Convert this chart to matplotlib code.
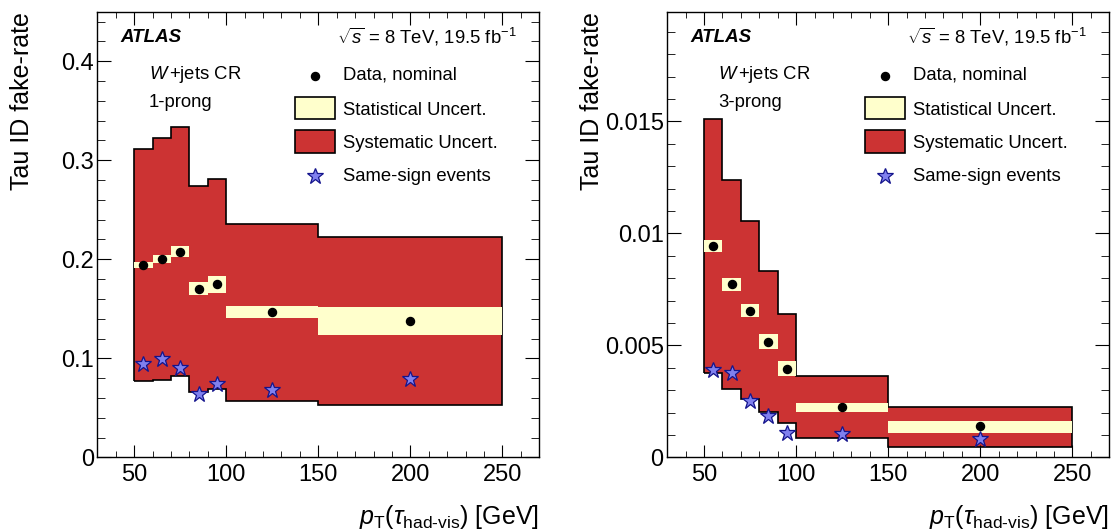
import matplotlib
matplotlib.use("Agg")
import matplotlib.pyplot as plt
from matplotlib.patches import Rectangle
from matplotlib.ticker import MultipleLocator, FuncFormatter

plt.rcParams["font.family"] = ["Liberation Sans", "DejaVu Sans"]
plt.rcParams["mathtext.fontset"] = "custom"
plt.rcParams["mathtext.rm"] = "Liberation Sans"
plt.rcParams["mathtext.it"] = "Liberation Sans:italic"
plt.rcParams["mathtext.bf"] = "Liberation Sans:bold"

# pT bins [GeV]
edges = [50, 60, 70, 80, 90, 100, 150, 250]
centers = [55, 65, 75, 85, 95, 125, 200]

# 1-prong
rate_1p = [0.194, 0.200, 0.207, 0.170, 0.175, 0.147, 0.138]
stat_lo_1p = [0.191, 0.1965, 0.2025, 0.164, 0.166, 0.141, 0.124]
stat_hi_1p = [0.197, 0.204, 0.213, 0.177, 0.183, 0.153, 0.152]
sys_lo_1p = [0.077, 0.078, 0.082, 0.066, 0.069, 0.057, 0.053]
sys_hi_1p = [0.311, 0.322, 0.334, 0.274, 0.281, 0.236, 0.222]
ss_1p = [0.094, 0.099, 0.0905, 0.064, 0.0736, 0.068, 0.079]

# 3-prong
rate_3p = [0.00943, 0.00774, 0.00655, 0.00516, 0.00396, 0.00225, 0.00138]
stat_lo_3p = [0.00918, 0.00744, 0.00626, 0.00486, 0.00362, 0.00204, 0.00111]
stat_hi_3p = [0.00970, 0.00800, 0.00685, 0.00550, 0.00431, 0.00244, 0.00164]
sys_lo_3p = [0.00375, 0.00305, 0.00261, 0.00203, 0.00154, 0.00087, 0.00047]
sys_hi_3p = [0.01512, 0.01240, 0.01055, 0.00832, 0.00639, 0.00363, 0.00225]
ss_3p = [0.00390, 0.00375, 0.00250, 0.00187, 0.00110, 0.00105, 0.00084]

RED = "#cc3333"
YELLOW = "#ffffcc"
STAR_FACE = "#8080ee"
STAR_EDGE = "#14148c"


def draw_panel(ax, rate, stat_lo, stat_hi, sys_lo, sys_hi, ss, prong, ymax, ymaj, ymin):
    ax.stairs(sys_hi, edges, baseline=sys_lo, fill=True, color=RED, lw=0, zorder=1)
    ax.stairs(sys_hi, edges, baseline=sys_lo, fill=False, color="black", lw=1.2, zorder=2)
    ax.stairs(stat_hi, edges, baseline=stat_lo, fill=True, color=YELLOW, lw=0, zorder=3)
    ax.plot(centers, rate, "o", color="black", ms=5.8, zorder=5)
    ax.plot(centers, ss, "*", ms=12, mfc=STAR_FACE, mec=STAR_EDGE, mew=0.9, zorder=6)

    ax.set_xlim(30, 270)
    ax.set_ylim(0, ymax)
    ax.xaxis.set_major_locator(MultipleLocator(50))
    ax.xaxis.set_minor_locator(MultipleLocator(10))
    ax.yaxis.set_major_locator(MultipleLocator(ymaj))
    ax.yaxis.set_minor_locator(MultipleLocator(ymin))
    ax.yaxis.set_major_formatter(FuncFormatter(lambda v, p: "%g" % round(v, 6)))
    ax.tick_params(which="both", direction="in", top=True, right=True, labelsize=17)
    ax.tick_params(axis="x", which="major", length=9, pad=5)
    ax.tick_params(axis="x", which="minor", length=4.5)
    ax.tick_params(axis="y", which="major", length=10, pad=2.5)
    ax.tick_params(axis="y", which="minor", length=5.5)
    for s in ax.spines.values():
        s.set_linewidth(1.0)

    ax.set_ylabel("Tau ID fake-rate", fontsize=18, loc="top")
    ax.yaxis.set_label_coords(-0.171, 1.0)
    ax.yaxis.label.set_va("center")
    ax.set_xlabel(r"$p_{\mathrm{T}}(\tau_{\text{had-vis}})$ [GeV]", fontsize=18, loc="right")
    ax.xaxis.set_label_coords(1.0, -0.133)
    ax.xaxis.label.set_va("center")

    tr = ax.transAxes
    ax.text(0.052, 0.931, "ATLAS", transform=tr, fontsize=13.5, fontweight="bold",
            fontstyle="italic", va="baseline")
    ax.text(0.949, 0.929, r"$\sqrt{s}$ = 8 TeV, 19.5 fb$^{-1}$", transform=tr,
            fontsize=13.3, ha="right", va="baseline")
    ax.text(0.116, 0.848, r"$W\,$+jets CR", transform=tr, fontsize=13.3, va="baseline")
    ax.text(0.116, 0.787, prong, transform=tr, fontsize=13.3, va="baseline")

    # legend, drawn by hand in ROOT style
    xm, bx0, bw, bh, xt = 0.492, 0.448, 0.089, 0.051, 0.556
    ax.plot([xm], [0.856], "o", color="black", ms=5.8, transform=tr, clip_on=False)
    ax.add_patch(Rectangle((bx0, 0.784 - bh / 2), bw, bh, transform=tr, fc=YELLOW,
                           ec="black", lw=1.2, zorder=7))
    ax.add_patch(Rectangle((bx0, 0.708 - bh / 2), bw, bh, transform=tr, fc=RED,
                           ec="black", lw=1.2, zorder=7))
    ax.plot([xm], [0.632], "*", ms=12, mfc=STAR_FACE, mec=STAR_EDGE, mew=0.9,
            transform=tr, clip_on=False)
    labels = ["Data, nominal", "Statistical Uncert.", "Systematic Uncert.", "Same-sign events"]
    for lab, yb in zip(labels, [0.847, 0.768, 0.695, 0.620]):
        ax.text(xt, yb, lab, transform=tr, fontsize=13.3, va="baseline")


fig = plt.figure(figsize=(11.12, 5.30), dpi=100)
ax1 = fig.add_axes([0.0875, 0.137, 0.3975, 0.841])
ax2 = fig.add_axes([0.600, 0.137, 0.3975, 0.841])

draw_panel(ax1, rate_1p, stat_lo_1p, stat_hi_1p, sys_lo_1p, sys_hi_1p, ss_1p,
           "1-prong", 0.45, 0.1, 0.02)
draw_panel(ax2, rate_3p, stat_lo_3p, stat_hi_3p, sys_lo_3p, sys_hi_3p, ss_3p,
           "3-prong", 0.0199, 0.005, 0.001)

fig.savefig("out.png", dpi=100)
